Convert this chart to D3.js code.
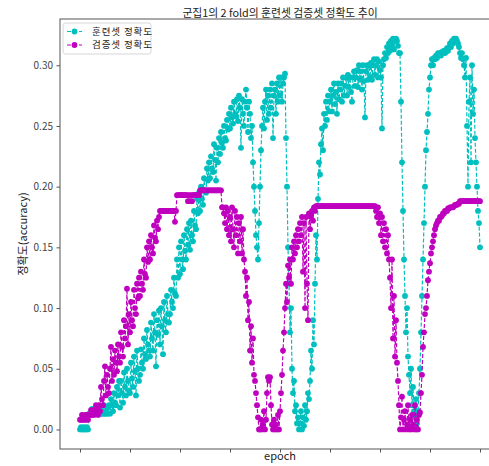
<!DOCTYPE html>
<html>
<head>
<meta charset="utf-8">
<script src="https://cdn.jsdelivr.net/npm/d3@7"></script>
<style>
  body { margin: 0; background: #fff; }
  text { font-family: "Noto Sans CJK KR", "Noto Sans", sans-serif; }
</style>
</head>
<body>
<svg></svg>
<script>
// 훈련셋 정확도 (epoch 0..400)
const trainAcc = [
  0, 0.002, 0, 0, 0.002, 0, 0, 0.002, 0, 0.013,
  0.013, 0.013, 0.017, 0.013, 0.013, 0.013, 0.017, 0.013, 0.013, 0.013,
  0.013, 0.017, 0.013, 0.013, 0.02, 0.013, 0.013, 0.017, 0.013, 0.02,
  0.013, 0.025, 0.02, 0.015, 0.03, 0.022, 0.02, 0.035, 0.028, 0.04,
  0.018, 0.04, 0.03, 0.022, 0.047, 0.035, 0.028, 0.05, 0.04, 0.032,
  0.03, 0.055, 0.042, 0.035, 0.06, 0.048, 0.028, 0.065, 0.05, 0.04,
  0.045, 0.066, 0.055, 0.05, 0.075, 0.062, 0.058, 0.082, 0.07, 0.065,
  0.06, 0.088, 0.075, 0.065, 0.095, 0.08, 0.052, 0.09, 0.078, 0.098,
  0.07, 0.1, 0.085, 0.062, 0.105, 0.09, 0.08, 0.11, 0.095, 0.088,
  0.095, 0.115, 0.105, 0.1, 0.125, 0.112, 0.11, 0.14, 0.125, 0.15,
  0.128, 0.155, 0.14, 0.132, 0.16, 0.147, 0.14, 0.165, 0.152, 0.17,
  0.148, 0.172, 0.16, 0.155, 0.18, 0.168, 0.165, 0.19, 0.178, 0.195,
  0.18, 0.2, 0.19, 0.185, 0.207, 0.196, 0.195, 0.215, 0.205, 0.22,
  0.207, 0.225, 0.215, 0.212, 0.235, 0.222, 0.205, 0.232, 0.22, 0.24,
  0.227, 0.245, 0.236, 0.232, 0.25, 0.24, 0.238, 0.255, 0.247, 0.26,
  0.248, 0.265, 0.257, 0.252, 0.27, 0.26, 0.258, 0.272, 0.254, 0.275,
  0.265, 0.232, 0.272, 0.26, 0.25, 0.27, 0.28, 0.265, 0.245, 0.27,
  0.26, 0.24, 0.25, 0.22, 0.2, 0.18, 0.16, 0.15, 0.14, 0.17,
  0.2, 0.23, 0.25, 0.265, 0.248, 0.27, 0.28, 0.255, 0.275, 0.26,
  0.28, 0.265, 0.285, 0.24, 0.275, 0.28, 0.26, 0.285, 0.27, 0.29,
  0.275, 0.29, 0.27, 0.285, 0.29, 0.293, 0.24, 0.2, 0.15, 0.12,
  0.08, 0.1, 0.05, 0.03, 0.04, 0.015, 0.02, 0.005, 0.01, 0,
  0.005, 0.015, 0, 0.01, 0.003, 0.02, 0.008, 0.015, 0.03, 0.025,
  0.04, 0.065, 0.05, 0.09, 0.07, 0.12, 0.16, 0.14, 0.19, 0.22,
  0.21, 0.235, 0.248, 0.23, 0.26, 0.25, 0.27, 0.255, 0.275, 0.262,
  0.27, 0.28, 0.262, 0.275, 0.285, 0.268, 0.278, 0.26, 0.285, 0.272,
  0.28, 0.285, 0.27, 0.29, 0.275, 0.283, 0.29, 0.275, 0.292, 0.282,
  0.29, 0.278, 0.27, 0.29, 0.295, 0.283, 0.29, 0.296, 0.282, 0.3,
  0.288, 0.295, 0.28, 0.3, 0.287, 0.257, 0.295, 0.3, 0.288, 0.3,
  0.29, 0.302, 0.288, 0.3, 0.305, 0.292, 0.3, 0.305, 0.29, 0.303,
  0.296, 0.29, 0.248, 0.3, 0.305, 0.31, 0.306, 0.315, 0.31, 0.318,
  0.312, 0.32, 0.316, 0.322, 0.313, 0.32, 0.322, 0.32, 0.316, 0.31,
  0.31, 0.27, 0.22, 0.18, 0.14, 0.11, 0.08, 0.1, 0.06, 0.045,
  0.03, 0.05, 0.02, 0.035, 0.015, 0.01, 0.025, 0.005, 0.015, 0.03,
  0.05, 0.08, 0.11, 0.14, 0.17, 0.2, 0.23, 0.245, 0.26, 0.28,
  0.29, 0.3, 0.305, 0.3, 0.306, 0.305, 0.308, 0.306, 0.31, 0.308,
  0.31, 0.308, 0.311, 0.31, 0.312, 0.31, 0.311, 0.314, 0.312, 0.315,
  0.318, 0.315, 0.32, 0.318, 0.322, 0.32, 0.322, 0.32, 0.318, 0.315,
  0.31, 0.306, 0.31, 0.305, 0.3, 0.29, 0.306, 0.25, 0.2, 0.27,
  0.29, 0.22, 0.3, 0.26, 0.28, 0.24, 0.22, 0.2, 0.18, 0.17,
  0.15
];

// 검증셋 정확도 (epoch 0..400)
const valAcc = [
  0.008, 0.008, 0.012, 0.008, 0.008, 0.012, 0.008, 0.012, 0.008, 0.012,
  0.012, 0.016, 0.012, 0.016, 0.012, 0.016, 0.02, 0.016, 0.012, 0.02,
  0.015, 0.035, 0.025, 0.02, 0.04, 0.052, 0.028, 0.045, 0.035, 0.03,
  0.05, 0.068, 0.04, 0.058, 0.045, 0.065, 0.055, 0.048, 0.07, 0.06,
  0.055, 0.08, 0.068, 0.06, 0.09, 0.075, 0.085, 0.116, 0.07, 0.095,
  0.08, 0.105, 0.09, 0.085, 0.115, 0.1, 0.095, 0.12, 0.108, 0.125,
  0.11, 0.13, 0.12, 0.115, 0.14, 0.128, 0.125, 0.15, 0.138, 0.155,
  0.14, 0.16, 0.15, 0.145, 0.168, 0.158, 0.155, 0.172, 0.165, 0.175,
  0.18, 0.18, 0.18, 0.18, 0.18, 0.18, 0.18, 0.18, 0.18, 0.18,
  0.18, 0.18, 0.18, 0.18, 0.18, 0.171, 0.18, 0.193, 0.193, 0.193,
  0.193, 0.193, 0.193, 0.193, 0.193, 0.193, 0.193, 0.193, 0.188, 0.193,
  0.188, 0.193, 0.188, 0.193, 0.193, 0.193, 0.193, 0.193, 0.193, 0.193,
  0.197, 0.197, 0.197, 0.197, 0.197, 0.197, 0.197, 0.197, 0.197, 0.197,
  0.197, 0.197, 0.197, 0.197, 0.197, 0.197, 0.197, 0.197, 0.197, 0.197,
  0.197, 0.197, 0.183, 0.183, 0.178, 0.17, 0.183, 0.165, 0.18, 0.16,
  0.175, 0.155, 0.183, 0.165, 0.15, 0.18, 0.16, 0.175, 0.145, 0.17,
  0.155, 0.175, 0.145, 0.165, 0.14, 0.13, 0.11, 0.125, 0.09, 0.105,
  0.065, 0.085, 0.055, 0.075, 0.045, 0.04, 0.03, 0.02, 0.01, 0,
  0, 0.008, 0, 0.004, 0.015, 0, 0.008, 0.03, 0.043, 0.04,
  0.043, 0.02, 0.004, 0, 0.008, 0, 0.004, 0, 0.012, 0,
  0.015, 0.03, 0.045, 0.065, 0.08, 0.1, 0.12, 0.105, 0.135, 0.125,
  0.14, 0.12, 0.15, 0.14, 0.155, 0.145, 0.16, 0.15, 0.165, 0.155,
  0.17, 0.16, 0.175, 0.13, 0.17, 0.1, 0.175, 0.12, 0.09, 0.178,
  0.165, 0.175, 0.18, 0.172, 0.183, 0.18, 0.184, 0.184, 0.184, 0.184,
  0.184, 0.184, 0.184, 0.184, 0.184, 0.184, 0.184, 0.184, 0.184, 0.184,
  0.184, 0.184, 0.184, 0.184, 0.184, 0.184, 0.184, 0.184, 0.184, 0.184,
  0.184, 0.184, 0.184, 0.184, 0.184, 0.184, 0.184, 0.184, 0.184, 0.184,
  0.184, 0.184, 0.184, 0.184, 0.184, 0.184, 0.184, 0.184, 0.184, 0.184,
  0.184, 0.184, 0.184, 0.184, 0.184, 0.184, 0.184, 0.184, 0.184, 0.184,
  0.184, 0.184, 0.184, 0.184, 0.184, 0.184, 0.18, 0.175, 0.183, 0.17,
  0.178, 0.16, 0.175, 0.155, 0.17, 0.15, 0.165, 0.145, 0.16, 0.14,
  0.125, 0.1, 0.14, 0.075, 0.11, 0.06, 0.09, 0.055, 0.04, 0.02,
  0, 0.01, 0.027, 0, 0.008, 0.015, 0, 0.004, 0.02, 0,
  0.008, 0, 0.012, 0.004, 0, 0.02, 0, 0.008, 0, 0.012,
  0.014, 0.03, 0.045, 0.068, 0.08, 0.095, 0.1, 0.11, 0.123, 0.13,
  0.137, 0.145, 0.15, 0.155, 0.16, 0.165, 0.168, 0.17, 0.172, 0.172,
  0.175, 0.175, 0.176, 0.178, 0.178, 0.18, 0.18, 0.18, 0.182, 0.182,
  0.183, 0.183, 0.183, 0.183, 0.184, 0.185, 0.185, 0.185, 0.186, 0.186,
  0.188, 0.188, 0.188, 0.188, 0.188, 0.188, 0.188, 0.188, 0.188, 0.188,
  0.188, 0.188, 0.188, 0.188, 0.188, 0.188, 0.188, 0.188, 0.188, 0.188,
  0.188
];

const yTicks = [0, 0.05, 0.10, 0.15, 0.20, 0.25, 0.30];
const xTicks = [0, 50, 100, 150, 200, 250, 300, 350, 400];
const seriesNames = ['훈련셋 정확도', '검증셋 정확도'];
const colors = ['#00bfbf', '#bf00bf'];

const W = 489, H = 466;
const plotLeft = 60, plotRight = 500, plotTop = 19, plotBottom = 449;

const svg = d3.select('svg')
              .attr('width', W)
              .attr('height', H);

const x = d3.scaleLinear()
            .domain([-20, 420])
            .range([plotLeft, plotRight]);

const y = d3.scaleLinear()
            .domain([-0.0161, 0.3381])
            .range([plotBottom, plotTop]);

const series = [trainAcc, valAcc].map((vals, i) => ({
    name: seriesNames[i],
    color: colors[i],
    points: vals.map((v, e) => ({ epoch: e, acc: v }))
}));

// axes
svg.append('g')
   .attr('transform', `translate(${plotLeft},0)`)
   .call(d3.axisLeft(y).tickValues(yTicks).tickFormat(d3.format('.2f')).tickSize(3.5).tickPadding(3.5))
   .call(g => g.select('.domain').remove());

svg.append('g')
   .attr('transform', `translate(0,${plotBottom})`)
   .call(d3.axisBottom(x).tickValues(xTicks).tickFormat('').tickSize(3.5))
   .call(g => g.select('.domain').remove());

svg.selectAll('.tick line').attr('stroke', '#555');
svg.selectAll('.tick text')
   .attr('fill', '#444')
   .style('font-size', '10px');

// lines + markers
const line = d3.line()
               .x(d => x(d.epoch))
               .y(d => y(d.acc));

const plot = svg.append('g');

series.forEach(s => {
    const g = plot.append('g');
    g.append('path')
     .datum(s.points)
     .attr('fill', 'none')
     .attr('stroke', s.color)
     .attr('stroke-width', 1.2)
     .attr('stroke-dasharray', '4,2')
     .attr('d', line);
    g.selectAll('circle')
     .data(s.points)
     .enter()
     .append('circle')
     .attr('cx', d => x(d.epoch))
     .attr('cy', d => y(d.acc))
     .attr('r', 2.9)
     .attr('fill', s.color);
});

// frame
svg.append('rect')
   .attr('x', plotLeft)
   .attr('y', plotTop)
   .attr('width', plotRight - plotLeft)
   .attr('height', plotBottom - plotTop)
   .attr('fill', 'none')
   .attr('stroke', '#555')
   .attr('stroke-width', 1);

// title + labels
svg.append('text')
   .attr('x', (plotLeft + plotRight) / 2)
   .attr('y', 16.5)
   .attr('text-anchor', 'middle')
   .attr('fill', '#222')
   .style('font-size', '10.8px')
   .text('군집1의 2 fold의 훈련셋 검증셋 정확도 추이');

svg.append('text')
   .attr('x', (plotLeft + plotRight) / 2)
   .attr('y', 460)
   .attr('text-anchor', 'middle')
   .attr('fill', '#222')
   .style('font-size', '11px')
   .text('epoch');

svg.append('text')
   .attr('transform', `translate(27,${(plotTop + plotBottom) / 2}) rotate(-90)`)
   .attr('text-anchor', 'middle')
   .attr('fill', '#222')
   .style('font-size', '11px')
   .text('정확도(accuracy)');

// legend
const legend = svg.append('g').attr('transform', 'translate(63,23)');

legend.append('rect')
      .attr('width', 88)
      .attr('height', 31)
      .attr('rx', 2.5)
      .attr('fill', '#fff')
      .attr('fill-opacity', 0.8)
      .attr('stroke', '#d6d6d6');

series.forEach((s, i) => {
    const row = legend.append('g').attr('transform', `translate(0,${8.5 + i * 13.5})`);
    row.append('line')
       .attr('x1', 4).attr('x2', 19)
       .attr('stroke', s.color)
       .attr('stroke-width', 1.2)
       .attr('stroke-dasharray', '4,2');
    row.append('circle')
       .attr('cx', 11.5)
       .attr('r', 2.9)
       .attr('fill', s.color);
    row.append('text')
       .attr('x', 29)
       .attr('dy', '0.35em')
       .attr('fill', '#222')
       .style('font-size', '9.5px')
       .style('letter-spacing', '0.9px')
       .text(s.name);
});
</script>
</body>
</html>
